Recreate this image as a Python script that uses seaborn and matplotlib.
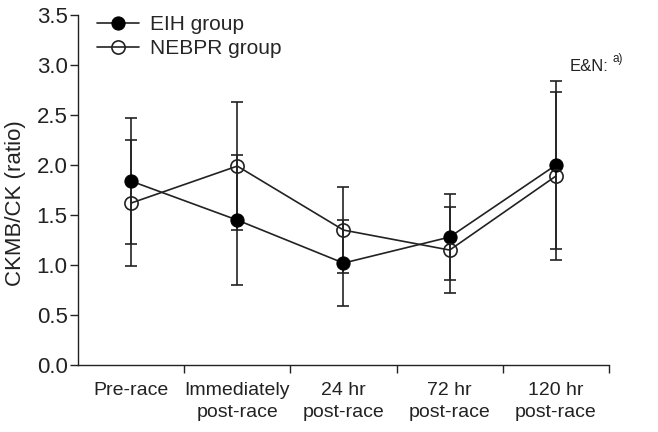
import numpy as np
import pandas as pd
import seaborn as sns
import matplotlib
matplotlib.use('agg')
import matplotlib.pyplot as plt

categories = ["Pre-race", "Immediately\npost-race", "24 hr\npost-race", "72 hr\npost-race", "120 hr\npost-race"]
eih_mean = [1.84, 1.45, 1.02, 1.28, 2.00]
eih_sd = [0.63, 0.65, 0.43, 0.43, 0.84]
nebpr_mean = [1.62, 1.99, 1.35, 1.15, 1.89]
nebpr_sd = [0.63, 0.64, 0.43, 0.43, 0.84]
yticks = [0.0, 0.5, 1.0, 1.5, 2.0, 2.5, 3.0, 3.5]

sns.set_style("ticks")
plt.rcParams['font.family'] = ['Liberation Sans', 'DejaVu Sans']

pos = np.arange(len(categories))
df = pd.DataFrame({
    "pos": np.concatenate([pos, pos]),
    "value": eih_mean + nebpr_mean,
    "sd": eih_sd + nebpr_sd,
    "group": ["EIH group"] * 5 + ["NEBPR group"] * 5,
})

fig = plt.figure(figsize=(6.58, 4.32), dpi=100)
ax = fig.add_axes([0.1185, 0.155, 0.807, 0.81])

# error bars first, markers over them
for g in ["EIH group", "NEBPR group"]:
    d = df[df.group == g]
    ax.errorbar(d.pos, d.value, yerr=d.sd, fmt='none', ecolor='#222222',
                elinewidth=1.2, capsize=4.5, capthick=1.2, zorder=2)

sns.lineplot(data=df[df.group == "EIH group"], x="pos", y="value", ax=ax,
             color='#222222', lw=1.2, marker='o', markersize=9.5,
             markerfacecolor='black', markeredgecolor='black',
             label="EIH group", zorder=3)
sns.lineplot(data=df[df.group == "NEBPR group"], x="pos", y="value", ax=ax,
             color='#222222', lw=1.2, marker='o', markersize=9.5,
             markerfacecolor='none', markeredgecolor='#222222', markeredgewidth=1.2,
             label="NEBPR group", zorder=3)

ax.set_xlim(-0.5, 4.5)
ax.set_ylim(0, 3.5)
ax.set_yticks(yticks)
ax.set_yticklabels([f"{t:.1f}" for t in yticks], fontsize=16, color='#222222')
ax.set_xticks(pos + 0.5)
ax.set_xticklabels([])
ax.set_xticks(pos, minor=True)
ax.set_xticklabels(categories, minor=True, fontsize=14, color='#222222', linespacing=1.4)
ax.tick_params(axis='x', which='minor', length=0, pad=12)
ax.tick_params(axis='both', which='major', length=5.5, width=1, color='#222222')
ax.tick_params(axis='y', pad=2)
ax.set_xlabel("")
ax.set_ylabel("CKMB/CK (ratio)", fontsize=16, color='#222222')
ax.yaxis.set_label_coords(-0.097, 0.463)
sns.despine(ax=ax)
for s in ["left", "bottom"]:
    ax.spines[s].set_color('#222222')
    ax.spines[s].set_linewidth(1)

ax.text(4.31, 2.94, "E&N:", fontsize=12, ha='center', va='baseline', color='#222222')
ax.text(4.58, 3.03, "a)", fontsize=8.5, ha='center', va='baseline', color='#222222', clip_on=False)

ax.legend(loc='upper left', bbox_to_anchor=(0.036, 1.0), frameon=False, fontsize=15,
          handlelength=2.0, handletextpad=0.55, labelspacing=0.25, borderaxespad=0, borderpad=0)

fig.savefig("out.png", dpi=100)
